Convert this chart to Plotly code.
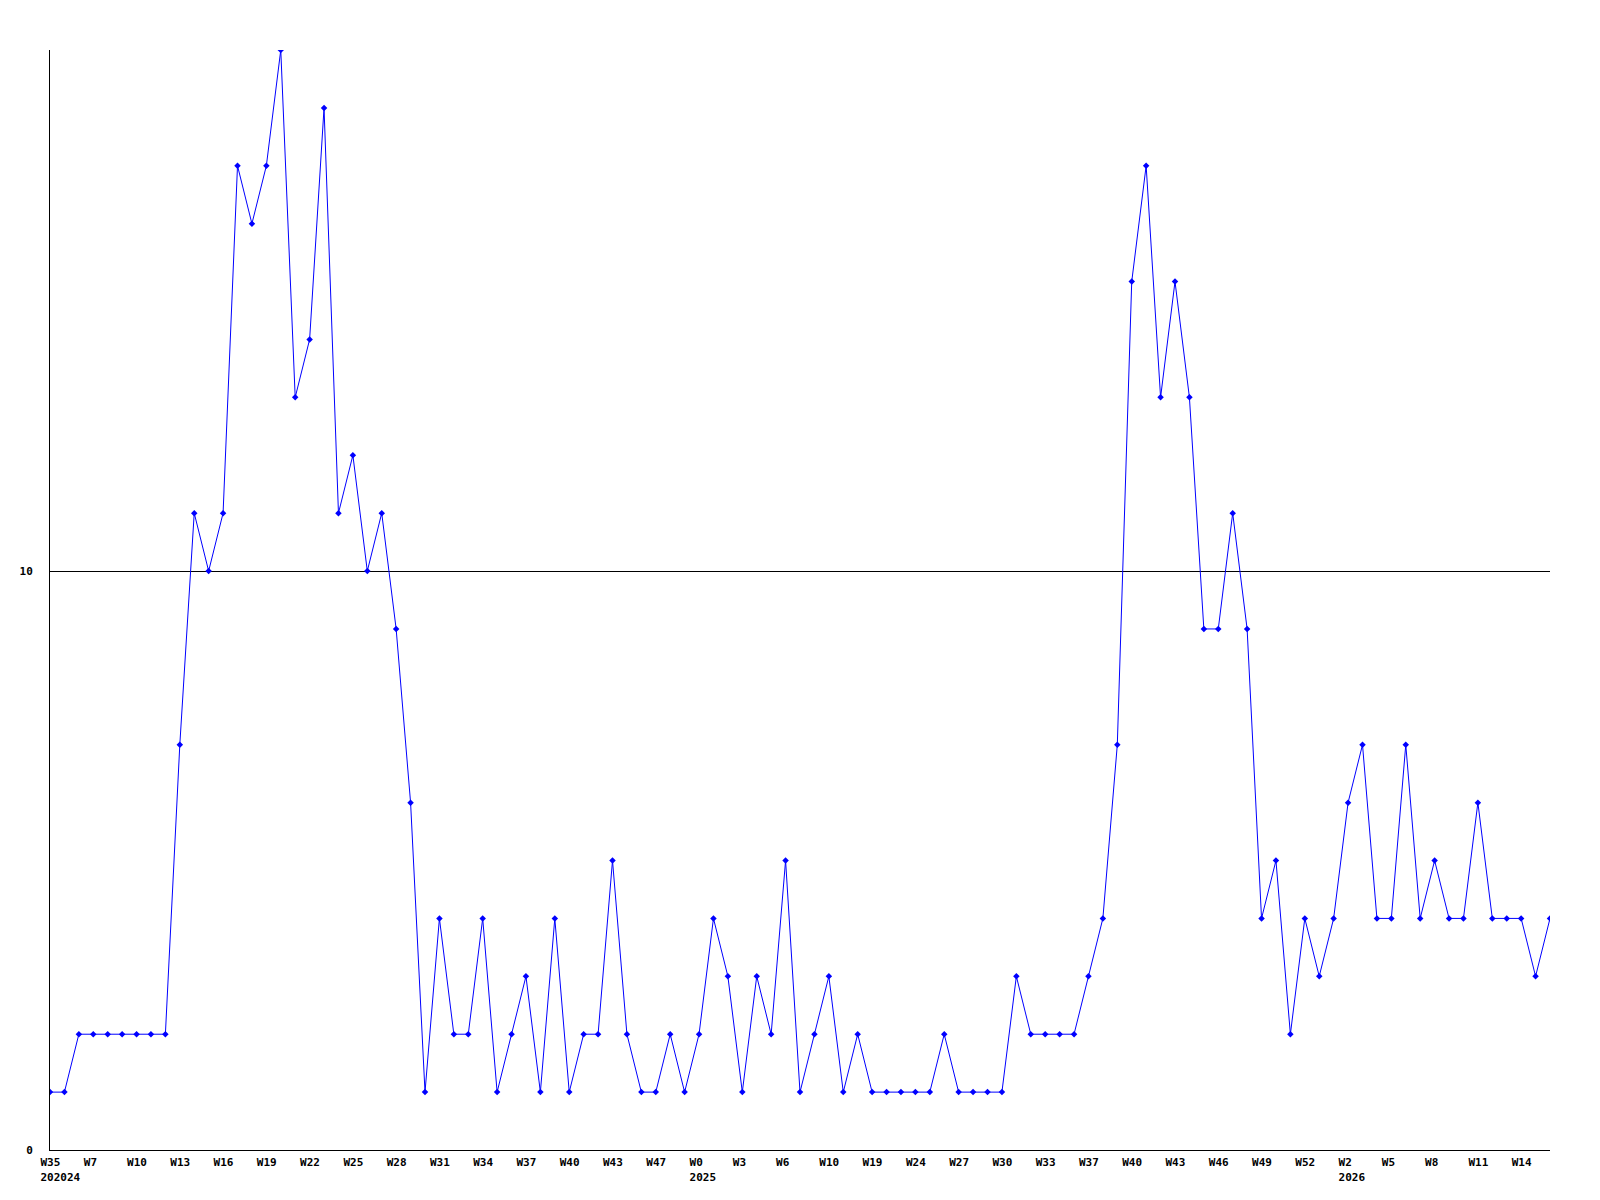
import plotly.graph_objects as go

# weekly counts, one per week, oldest first
counts = [
    1, 1, 2, 2, 2, 2, 2, 2, 2, 7,
    11, 10, 11, 17, 16, 17, 19, 13, 14, 18,
    11, 12, 10, 11, 9, 6, 1, 4, 2, 2,
    4, 1, 2, 3, 1, 4, 1, 2, 2, 5,
    2, 1, 1, 2, 1, 2, 4, 3, 1, 3,
    2, 5, 1, 2, 3, 1, 2, 1, 1, 1,
    1, 1, 2, 1, 1, 1, 1, 3, 2, 2,
    2, 2, 3, 4, 7, 15, 17, 13, 15, 13,
    9, 9, 11, 9, 4, 5, 2, 4, 3, 4,
    6, 7, 4, 4, 7, 4, 5, 4, 4, 6,
    4, 4, 4, 3, 4,
]

# a label every third week
week_labels = [
    "W35", "W7", "W10", "W13", "W16", "W19", "W22", "W25", "W28", "W31",
    "W34", "W37", "W40", "W43", "W47", "W0", "W3", "W6", "W10", "W19",
    "W24", "W27", "W30", "W33", "W37", "W40", "W43", "W46", "W49", "W52",
    "W2", "W5", "W8", "W11", "W14",
]
year_labels = {0: "202024", 15: "2025", 30: "2026"}

y_ticks = [0, 10]

x = list(range(len(counts)))
tick_pos = x[::3][: len(week_labels)]
tick_text = [
    w + ("<br>" + year_labels[i] if i in year_labels else "")
    for i, w in enumerate(week_labels)
]

fig = go.Figure(
    go.Scatter(
        x=x,
        y=counts,
        mode="lines+markers",
        line=dict(color="#0000ff", width=1),
        marker=dict(symbol="diamond", size=5, color="#0000ff"),
        showlegend=False,
        hoverinfo="skip",
    )
)

tick_font = dict(family="DejaVu Sans Mono", size=11, color="black", weight="bold")

# page body has an 8px margin, so the figure is sized to fit inside it
fig.update_layout(
    width=1584,
    height=1180,
    plot_bgcolor="white",
    paper_bgcolor="white",
    margin=dict(l=42, r=42, t=42, b=38),
    xaxis=dict(
        range=[0, len(counts) - 1],
        tickmode="array",
        tickvals=tick_pos,
        ticktext=tick_text,
        ticklabelposition="outside right",
        ticklabelshift=-10,
        ticklabelstandoff=2,
        tickfont=tick_font,
        automargin=False,
        showgrid=False,
        zeroline=False,
        showline=True,
        linecolor="black",
        linewidth=1,
        ticks="",
    ),
    yaxis=dict(
        range=[0, 19],
        tickmode="array",
        tickvals=y_ticks,
        ticktext=[str(v) for v in y_ticks],
        tickfont=tick_font,
        ticklabelstandoff=14,
        automargin=False,
        showgrid=True,
        gridcolor="black",
        gridwidth=1,
        zeroline=False,
        showline=True,
        linecolor="black",
        linewidth=1,
        ticks="",
    ),
)

fig.write_html("out.html")
